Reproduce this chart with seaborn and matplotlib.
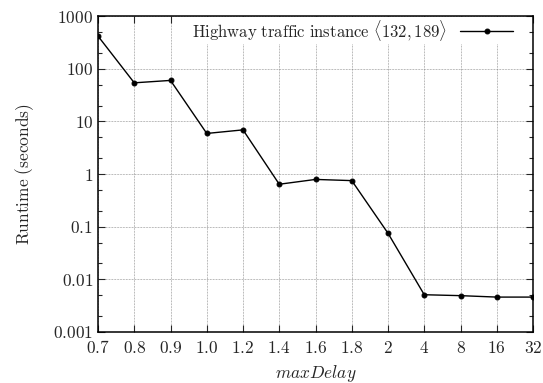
import matplotlib
matplotlib.use("Agg")
import matplotlib.pyplot as plt
import matplotlib.ticker as mticker
import seaborn as sns
import pandas as pd

# data
max_delay = ["0.7", "0.8", "0.9", "1.0", "1.2", "1.4", "1.6", "1.8", "2", "4", "8", "16", "32"]
runtime = [417, 54, 60, 5.9, 6.9, 0.64, 0.79, 0.75, 0.075, 0.0051, 0.0049, 0.0046, 0.0046]
series_label = r"$\mathrm{Highway\ traffic\ instance}\ \langle 132, 189\rangle$"

sns.set_style("ticks")
plt.rcParams["mathtext.fontset"] = "cm"
plt.rcParams["font.family"] = ["DejaVu Serif"]

df = pd.DataFrame({"maxDelay": max_delay, "runtime": runtime})

fig, ax = plt.subplots(figsize=(5.43, 3.83), dpi=100)
fig.subplots_adjust(left=0.1805, right=0.9816, top=0.958, bottom=0.1332)

sns.lineplot(data=df, x="maxDelay", y="runtime", ax=ax, color="black",
             marker="o", markersize=3.5, linewidth=1.0, label=series_label,
             markeredgecolor="black", sort=False)

ax.set_yscale("log")
ax.set_ylim(0.001, 1000)
ax.set_xlim(0, len(max_delay) - 1)

yticks = [0.001, 0.01, 0.1, 1, 10, 100, 1000]
ytick_labels = ["0.001", "0.01", "0.1", "1", "10", "100", "1000"]
ax.set_yticks(yticks)
ax.set_yticklabels([r"$\mathrm{%s}$" % t for t in ytick_labels])
ax.yaxis.set_minor_locator(mticker.LogLocator(base=10, subs=[2, 5]))
ax.yaxis.set_minor_formatter(mticker.NullFormatter())

ax.set_xticks(range(len(max_delay)))
ax.set_xticklabels([r"$\mathrm{%s}$" % t for t in max_delay])

ax.tick_params(which="both", direction="in", top=True, right=True, labelsize=12.5)
ax.tick_params(which="major", length=5, width=0.8)
ax.tick_params(which="minor", length=3, width=0.8)
ax.tick_params(axis="x", pad=6)

ax.grid(True, which="major", linestyle=(0, (1, 1.2)), color="#777777", linewidth=0.5)
for s in ax.spines.values():
    s.set_color("black")
    s.set_linewidth(1.1)

ax.set_xlabel(r"$maxDelay$", fontsize=12.5, labelpad=4)
ax.set_ylabel(r"$\mathrm{Runtime\ (seconds)}$", fontsize=12.5, labelpad=12)

# white legend box hides the grid behind the key, as in the original
leg = ax.legend(loc="upper right", frameon=True, markerfirst=False, fontsize=12,
                handlelength=3.2, borderaxespad=0, handletextpad=0.8,
                bbox_to_anchor=(0.957, 0.996), fancybox=False, framealpha=1,
                facecolor="white", edgecolor="none", borderpad=0.05)

plt.savefig("out.png", dpi=100)
plt.close()
